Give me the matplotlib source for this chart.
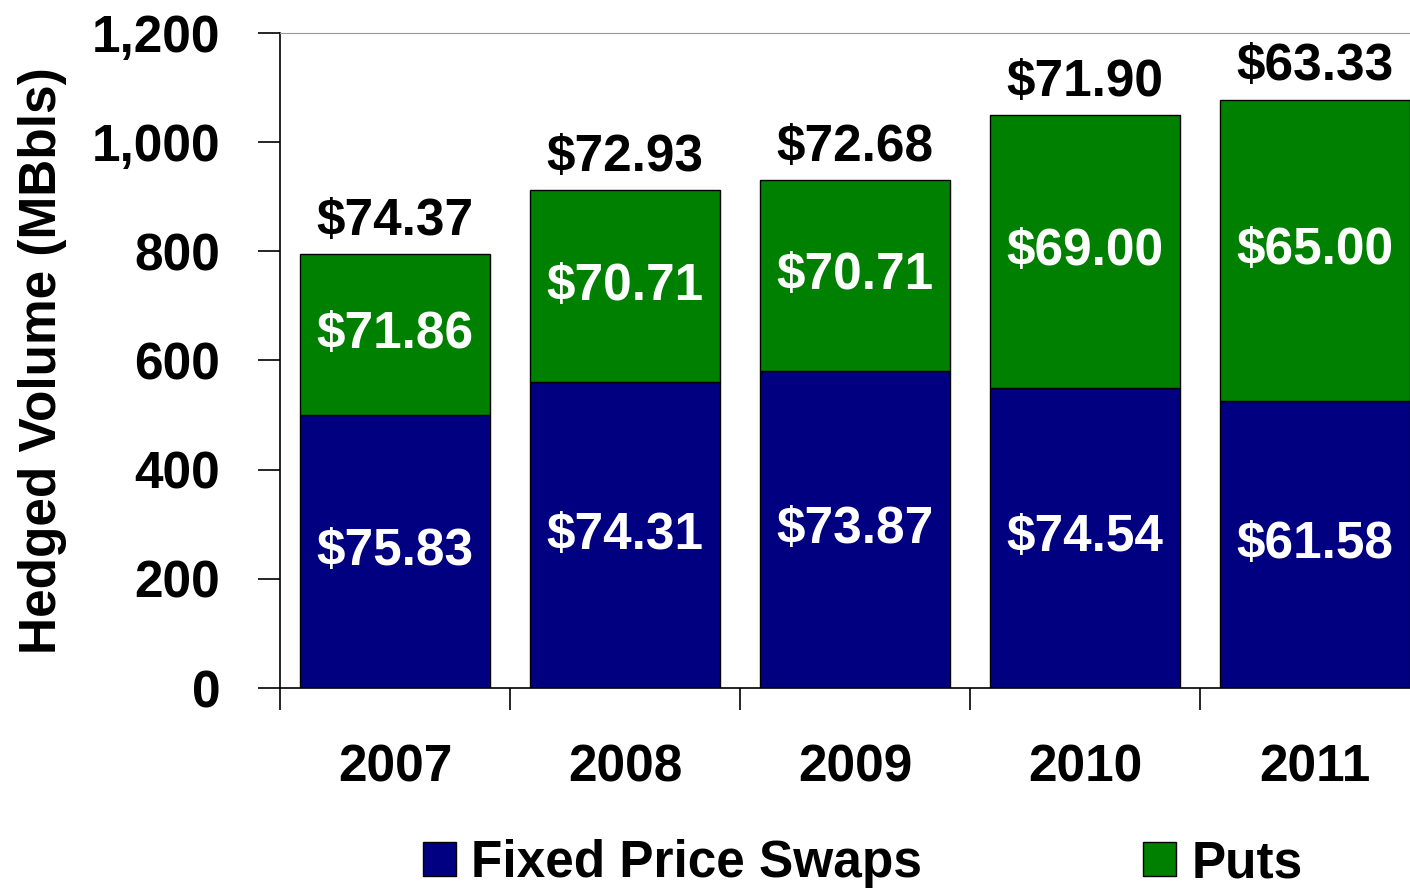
import matplotlib
matplotlib.use("Agg")
import matplotlib.pyplot as plt
import numpy as np

years = ["2007", "2008", "2009", "2010", "2011"]
swaps = [500, 560, 580, 550, 525]
puts = [295, 352, 350, 500, 553]
swap_prices = ["$75.83", "$74.31", "$73.87", "$74.54", "$61.58"]
put_prices = ["$71.86", "$70.71", "$70.71", "$69.00", "$65.00"]
total_prices = ["$74.37", "$72.93", "$72.68", "$71.90", "$63.33"]

plt.rcParams['font.family'] = ['Liberation Sans', 'DejaVu Sans']
plt.rcParams['font.weight'] = 'bold'

fig = plt.figure(figsize=(14.1, 8.89), dpi=100)
ax = fig.add_axes([280 / 1410, 1 - 688 / 889, 1150 / 1410, 655 / 889])

x = np.arange(len(years))
w = 0.83
fs = 37
b1 = ax.bar(x, swaps, w, color="#000080", edgecolor="black", linewidth=1, label="Fixed Price Swaps")
b2 = ax.bar(x, puts, w, bottom=swaps, color="#008000", edgecolor="black", linewidth=1, label="Puts")

ax.bar_label(b1, labels=swap_prices, label_type="center", color="white", fontsize=fs, fontweight="bold")
ax.bar_label(b2, labels=put_prices, label_type="center", color="white", fontsize=fs, fontweight="bold")
ax.bar_label(b2, labels=total_prices, padding=6, color="black", fontsize=fs, fontweight="bold")

ax.set_xlim(-0.5, 4.5)
ax.set_ylim(0, 1200)
ax.set_yticks(range(0, 1201, 200))
ax.set_yticklabels([f"{v:,}" for v in range(0, 1201, 200)])
ax.set_xticks(x)
ax.set_xticklabels(years)
ax.set_xticks(np.arange(-0.5, 4.6, 1), minor=True)
ax.tick_params(axis="x", which="major", length=0, pad=40, labelsize=fs)
ax.tick_params(axis="x", which="minor", length=16, width=1.2, direction="out")
ax.tick_params(axis="y", length=16, width=1.2, pad=27, labelsize=fs)
ax.set_ylabel("Hedged Volume (MBbls)", fontsize=fs, fontweight="bold", labelpad=18)

ax.spines["top"].set_color("#999999")
ax.spines["right"].set_visible(False)
ax.spines["left"].set_linewidth(1.2)
ax.spines["bottom"].set_linewidth(1.2)

fig.legend(handles=[b1, b2], loc="center", bbox_to_anchor=(863 / 1410, 1 - 864 / 889),
           ncol=2, frameon=False, handlelength=0.64, handleheight=0.64,
           handletextpad=0.3, columnspacing=4.3, prop={"weight": "bold", "size": fs})

fig.savefig("out.png", dpi=100)
